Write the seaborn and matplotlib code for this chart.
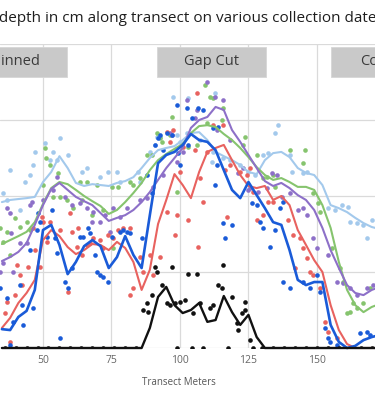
import pandas as pd
import matplotlib
matplotlib.use('Agg')
import matplotlib.pyplot as plt
from matplotlib.patches import Rectangle
import seaborn as sns

# Smoothed lines, one value per 3 m of transect
line_m = [35, 38, 41, 44, 47, 50, 53, 56, 59, 62, 65, 68, 71, 74, 77, 80, 83, 86, 89, 92, 95, 98, 101, 104,
          107, 110, 113, 116, 119, 122, 125, 128, 131, 134, 137, 140, 143, 146, 149, 152, 155, 158, 161, 164,
          167, 170, 173]
lightblue_line = [48.0, 48.7, 49.0, 49.3, 49.7, 54.6, 57.9, 63.1, 59.2, 54.3, 53.3, 53.9, 53.6, 53.3, 54.3, 54.9,
                  56.2, 59.2, 62.5, 65.1, 65.8, 66.4, 68.4, 70.7, 71.0, 68.4, 64.5, 63.1, 61.8, 60.2, 57.9, 57.2,
                  61.8, 64.1, 64.5, 62.8, 59.2, 57.6, 56.9, 53.6, 47.0, 46.0, 44.7, 42.8, 41.1, 39.8, 39.1]
green_line = [34.2, 35.5, 36.8, 38.2, 41.4, 47.4, 52.6, 54.6, 53.9, 52.0, 50.0, 48.3, 46.7, 44.1, 45.4, 48.0,
              51.0, 54.3, 58.5, 61.8, 63.8, 65.5, 67.1, 70.7, 73.0, 73.3, 72.7, 70.4, 68.4, 65.8, 62.8, 59.5,
              56.9, 55.3, 55.9, 54.6, 53.0, 53.0, 52.0, 47.0, 39.5, 28.3, 19.1, 14.1, 11.8, 13.5, 14.5]
purple_line = [28.6, 29.9, 31.6, 34.5, 40.5, 47.0, 52.3, 54.3, 52.0, 49.7, 48.3, 47.0, 44.4, 41.8, 42.8, 43.7,
               45.4, 48.0, 51.3, 55.3, 59.2, 62.5, 65.8, 72.4, 75.0, 76.0, 79.3, 78.3, 71.7, 67.8, 63.5, 59.2,
               54.9, 53.3, 54.3, 52.6, 50.3, 48.7, 45.4, 39.5, 32.2, 26.3, 20.7, 18.1, 17.4, 19.1, 20.1]
red_line = [6.6, 9.9, 14.8, 18.1, 22.4, 35.5, 38.8, 36.8, 33.2, 30.9, 32.2, 34.2, 33.9, 32.2, 34.9, 32.9,
            28.3, 19.1, 25.7, 40.8, 48.7, 57.2, 53.6, 49.3, 57.9, 64.5, 65.8, 66.8, 61.8, 56.9, 53.3, 52.6,
            53.3, 48.7, 50.0, 47.0, 38.8, 33.9, 28.9, 25.0, 14.1, 5.9, 1.3, 0, 0, 0, 0]
blue_line = [6.2, 5.9, 10.2, 12.2, 19.1, 38.8, 40.5, 33.9, 24.3, 28.3, 33.5, 35.5, 33.5, 26.3, 29.9, 36.8,
             30.6, 26.3, 43.7, 60.8, 63.5, 64.5, 66.8, 70.4, 68.4, 67.8, 65.1, 58.5, 52.0, 49.3, 54.6, 50.3,
             46.0, 41.4, 40.5, 32.2, 22.4, 20.7, 21.7, 21.7, 7.6, 2.0, 0, 0.7, 2.6, 3.6, 4.3]
black_line = [0, 0, 0, 0, 0, 0, 0, 0, 0, 0, 0, 0, 0, 0, 0, 0, 0, 0, 6.6, 16.8, 20.1, 14.1, 11.5, 12.5,
              14.8, 8.6, 9.2, 17.1, 11.8, 7.6, 10.9, 3.6, 0, 0, 0, 0, 0, 0, 0, 0, 0, 0, 0, 0, 0, 0, 0]

# Individual measurements
lightblue_dot_m = [35.4, 36.9, 38.0, 41.6, 43.4, 45.3, 46.3, 47.1, 50.7, 52.6, 53.6, 55.1, 56.2, 59.1, 64.2,
                   66.1, 70.8, 73.7, 77.0, 78.1, 84.7, 85.4, 89.1, 90.9, 91.6, 92.7, 97.4, 98.9, 100.0, 102.6,
                   102.9, 107.3, 111.7, 112.0, 112.8, 115.7, 118.2, 121.9, 124.8, 127.4, 130.3, 132.1, 134.7,
                   135.8, 140.1, 140.9, 144.9, 146.4, 154.0, 156.6, 159.1, 161.3, 162.1, 164.6, 166.8, 168.3, 170.1]
lightblue_dot_cm = [51.0, 48.7, 58.6, 45.4, 54.6, 56.9, 60.2, 64.5, 67.4, 61.9, 64.5, 61.9, 69.1, 63.5, 57.9,
                    59.2, 56.3, 57.9, 57.9, 54.6, 57.9, 54.6, 64.5, 66.8, 69.4, 69.4, 82.6, 70.1, 67.8, 70.7,
                    82.3, 68.4, 61.2, 64.5, 83.9, 62.5, 61.9, 60.2, 57.9, 56.9, 63.5, 64.2, 70.7, 73.4, 63.5,
                    57.9, 57.6, 57.9, 46.1, 45.4, 47.0, 46.4, 41.4, 41.1, 40.5, 36.2, 42.1]
green_dot_m = [34.3, 35.4, 36.9, 38.0, 39.8, 41.6, 44.2, 45.3, 50.0, 50.7, 51.2, 52.6, 53.6, 55.5, 56.2, 58.8,
               61.0, 63.5, 64.2, 66.1, 67.9, 69.7, 71.9, 75.2, 75.5, 77.4, 81.8, 82.8, 85.4, 88.0, 89.8, 91.6,
               92.7, 93.4, 96.4, 97.1, 98.9, 102.9, 106.2, 109.1, 109.9, 111.0, 112.0, 115.3, 115.7, 123.0,
               123.7, 128.1, 130.3, 131.8, 133.9, 134.7, 140.1, 144.9, 145.6, 148.5, 150.4, 151.1, 155.5, 158.4,
               159.5, 161.0, 162.1, 163.1, 164.6, 166.8, 169.3]
green_dot_cm = [39.5, 34.9, 38.2, 30.6, 42.8, 39.8, 41.4, 38.8, 53.6, 65.8, 62.5, 60.2, 49.7, 57.6, 49.7, 48.7,
                46.1, 54.6, 48.7, 54.6, 43.8, 53.6, 45.4, 53.0, 32.9, 53.0, 54.6, 53.6, 55.9, 63.5, 63.5, 70.7,
                69.1, 67.8, 70.1, 76.0, 51.3, 66.1, 66.8, 86.5, 74.0, 82.6, 82.3, 75.0, 79.0, 66.8, 69.4, 63.5,
                55.9, 56.3, 56.9, 53.0, 65.1, 60.9, 65.1, 51.0, 47.7, 44.7, 32.9, 26.3, 21.7, 11.5, 11.8, 14.8,
                13.2, 14.8, 19.7]
purple_dot_m = [34.3, 35.4, 36.9, 38.0, 38.4, 39.0, 41.6, 44.2, 45.3, 46.0, 50.0, 53.6, 55.1, 58.0, 60.6, 63.5,
                66.1, 67.9, 68.2, 70.8, 72.6, 74.5, 75.5, 78.1, 80.7, 85.4, 88.0, 90.1, 93.8, 96.4, 97.1, 98.9,
                101.1, 102.6, 105.5, 106.2, 109.9, 112.8, 113.5, 115.7, 118.2, 121.2, 123.0, 124.8, 125.5,
                128.5, 131.8, 133.6, 135.4, 137.2, 140.1, 143.1, 144.9, 146.4, 148.5, 150.0, 154.0, 157.3,
                159.5, 162.1, 164.6, 168.3, 170.4]
purple_dot_cm = [25.0, 28.0, 46.1, 44.4, 37.8, 25.0, 34.5, 34.5, 47.0, 48.0, 48.7, 52.0, 56.3, 49.7, 47.0, 47.7,
                 46.1, 41.4, 44.7, 41.4, 43.7, 38.2, 46.1, 43.1, 46.1, 48.7, 49.3, 53.0, 56.9, 70.7, 70.1, 61.2,
                 64.5, 81.6, 75.7, 78.3, 87.5, 82.6, 71.7, 81.6, 68.4, 57.6, 59.2, 52.0, 52.6, 51.3, 52.6, 57.6,
                 56.9, 49.7, 51.0, 45.4, 46.1, 43.7, 36.2, 32.9, 30.6, 21.7, 21.4, 19.7, 17.4, 19.7, 20.7]
red_dot_m = [36.1, 36.9, 38.0, 39.8, 40.5, 41.6, 42.3, 44.5, 46.3, 47.1, 48.9, 49.6, 50.0, 51.5, 52.6, 56.2,
             59.1, 59.9, 60.6, 62.4, 62.8, 64.2, 66.1, 67.2, 68.2, 70.8, 71.9, 73.7, 75.5, 77.4, 79.2, 81.8,
             81.8, 82.8, 85.4, 86.5, 89.1, 90.1, 92.7, 95.3, 95.3, 96.4, 97.4, 98.2, 98.9, 100.0, 101.1, 102.9,
             105.5, 106.2, 106.6, 107.3, 108.4, 109.9, 112.0, 115.7, 116.4, 117.2, 118.2, 121.9, 124.5, 125.5,
             126.6, 128.1, 130.3, 132.1, 134.0, 139.4, 141.2, 142.0, 143.8, 144.9, 146.4, 147.5, 148.5, 151.1,
             152.9, 154.0, 157.3]
red_dot_cm = [11.5, 15.1, 2.0, 17.4, 27.3, 24.0, 20.7, 26.6, 39.5, 32.2, 26.6, 43.1, 41.4, 34.9, 41.4, 38.8,
              18.4, 44.4, 38.2, 33.2, 39.5, 30.6, 33.9, 34.5, 36.2, 35.5, 32.9, 37.2, 36.2, 38.8, 39.5, 39.5,
              17.4, 19.7, 29.9, 25.0, 30.6, 24.0, 29.9, 44.7, 71.0, 67.8, 71.7, 37.2, 43.7, 57.9, 66.1, 42.1,
              65.1, 83.9, 33.2, 55.9, 48.0, 64.5, 73.4, 73.4, 58.6, 43.1, 60.2, 57.9, 56.9, 59.2, 51.3, 42.1,
              43.7, 48.0, 48.0, 42.1, 37.2, 26.3, 36.2, 32.9, 29.6, 25.0, 24.0, 19.7, 8.6, 5.3, 3.3]
blue_dot_m = [34.3, 36.9, 38.0, 39.0, 41.6, 42.3, 42.7, 45.3, 46.3, 47.8, 48.2, 48.9, 51.5, 53.3, 54.4, 55.1,
              56.2, 58.0, 59.1, 60.6, 63.5, 64.6, 66.4, 67.2, 69.0, 69.7, 70.8, 71.9, 73.7, 75.2, 78.1, 79.2,
              80.7, 81.8, 86.1, 88.0, 89.8, 90.9, 92.0, 92.7, 93.8, 95.3, 97.1, 98.9, 99.3, 100.0, 102.6, 102.9,
              104.4, 106.6, 108.4, 112.0, 112.8, 113.5, 113.9, 115.7, 116.4, 119.0, 126.3, 128.1, 129.2, 130.3,
              132.9, 134.7, 136.5, 137.6, 137.6, 140.1, 144.9, 147.5, 150.0, 151.1, 152.9, 154.0, 154.7, 157.3,
              165.7, 168.3, 169.3]
blue_dot_cm = [19.7, 16.4, 1.0, 8.6, 20.7, 14.1, 7.6, 32.2, 13.2, 38.8, 44.4, 41.4, 36.5, 45.4, 36.2, 31.2,
               3.3, 21.7, 19.7, 26.3, 36.5, 36.5, 39.5, 37.8, 30.6, 25.0, 24.0, 23.4, 21.7, 36.5, 38.2, 38.8,
               38.2, 37.8, 36.2, 56.9, 51.0, 66.8, 69.1, 70.1, 65.1, 70.7, 70.1, 79.9, 64.2, 60.2, 79.0, 66.8,
               75.7, 79.0, 78.3, 72.4, 53.6, 60.2, 72.7, 41.1, 36.2, 40.5, 47.7, 47.0, 41.4, 39.5, 33.2, 38.8,
               46.1, 48.0, 21.7, 19.7, 21.7, 19.7, 24.0, 18.4, 6.6, 3.3, 2.0, 1.0, 4.9, 5.3, 4.3]
black_dot_m = [36, 40, 44, 48, 52, 56, 60, 64, 68, 72, 76, 80, 84, 86.5, 88.0, 88.3, 89.8, 90.9, 91.6, 93.4,
               95.3, 96.4, 97.1, 98.2, 98.9, 100.0, 101.8, 102.9, 104.4, 104.7, 106.2, 107.3, 108.4, 111.0,
               112.0, 113.9, 115.3, 115.7, 117.5, 119.0, 120.8, 121.2, 122.6, 123.7, 123.7, 125.5, 126.6,
               130, 134, 138, 142, 146, 150, 154, 158, 162, 166, 170]
black_dot_cm = [0, 0, 0, 0, 0, 0, 0, 0, 0, 0, 0, 0, 0, 12.5, 14.8, 11.8, 17.4, 26.6, 25.0, 20.7, 14.8, 14.1,
                26.6, 14.8, 0, 15.1, 15.8, 24.3, 0, 11.5, 24.3, 14.8, 0, 13.2, 14.1, 20.7, 19.7, 27.3, 0, 16.8,
                8.2, 5.9, 11.5, 15.1, 12.5, 2.6, 0, 0, 0, 0, 0, 0, 0, 0, 0, 0, 0, 0]

strip_labels = ['Thinned', 'Gap Cut', 'Control']
strip_centers = [38.9, 111.5, 175.0]

series = [
    ('#a3c9ec', lightblue_dot_m, lightblue_dot_cm, lightblue_line, 1.5),
    ('#86c46e', green_dot_m, green_dot_cm, green_line, 1.5),
    ('#8d70c8', purple_dot_m, purple_dot_cm, purple_line, 1.5),
    ('#e8625f', red_dot_m, red_dot_cm, red_line, 1.5),
    ('#1a5bd8', blue_dot_m, blue_dot_cm, blue_line, 1.9),
    ('#111111', black_dot_m, black_dot_cm, black_line, 1.7),
]

sns.set_theme(style='whitegrid')
plt.rcParams['font.family'] = ['Open Sans', 'DejaVu Sans']

fig = plt.figure(figsize=(3.75, 4.0), dpi=100)
ax = fig.add_axes([0, 0.13, 1, 0.76])

for color, dm, dcm, line_vals, lw in series:
    dots = pd.DataFrame({'m': dm, 'cm': dcm})
    sns.scatterplot(data=dots, x='m', y='cm', color=color, s=11, linewidth=0, ax=ax, zorder=3)
    line = pd.DataFrame({'m': line_m, 'cm': line_vals})
    sns.lineplot(data=line, x='m', y='cm', color=color, linewidth=lw, estimator=None, sort=False,
                 ax=ax, zorder=4, clip_on=False)

ax.set_xlim(34.3, 171.2)
ax.set_ylim(0, 100)
ax.set_xticks([50, 75, 100, 125, 150])
ax.set_yticks([0, 25, 50, 75, 100])
ax.grid(True, color='#dadada', linewidth=0.9)
ax.set_axisbelow(True)
for s in ax.spines.values():
    s.set_visible(False)
ax.tick_params(axis='x', length=0, pad=5, labelsize=7.5, labelcolor='#666666')
ax.tick_params(axis='y', length=0, labelleft=False)
ax.set_ylabel('')
ax.set_xlabel('Transect Meters', fontsize=7, color='#555555', labelpad=9)
ax.xaxis.set_label_coords(0.477, -0.095)

# grey label boxes on top of the panel
for lab, c in zip(strip_labels, strip_centers):
    ax.add_patch(Rectangle((c - 19.9, 89.2), 39.8, 9.8, facecolor='#c9c9c9', edgecolor='#d6d6d6',
                           linewidth=0.6, zorder=5, clip_on=False))
    ax.text(c, 94.1, lab, ha='center', va='center', fontsize=10.5, color='#3a3a3a', zorder=6)

# title, cut at the left edge like the original crop
title = 'Snow depth in cm along transect on various collection dates'
tsize = 11
renderer = fig.canvas.get_renderer()
probe = fig.text(0, 0, 'Snow d', fontsize=tsize)
probe_d = fig.text(0, 0, 'd', fontsize=tsize)
shift = probe.get_window_extent(renderer).width - probe_d.get_window_extent(renderer).width
probe.remove()
probe_d.remove()
fig.text(-(shift + 1) / (3.75 * 100), 0.955, title, ha='left', va='center', fontsize=tsize, color='#1e1e1e')

fig.savefig('out.png', dpi=100)
